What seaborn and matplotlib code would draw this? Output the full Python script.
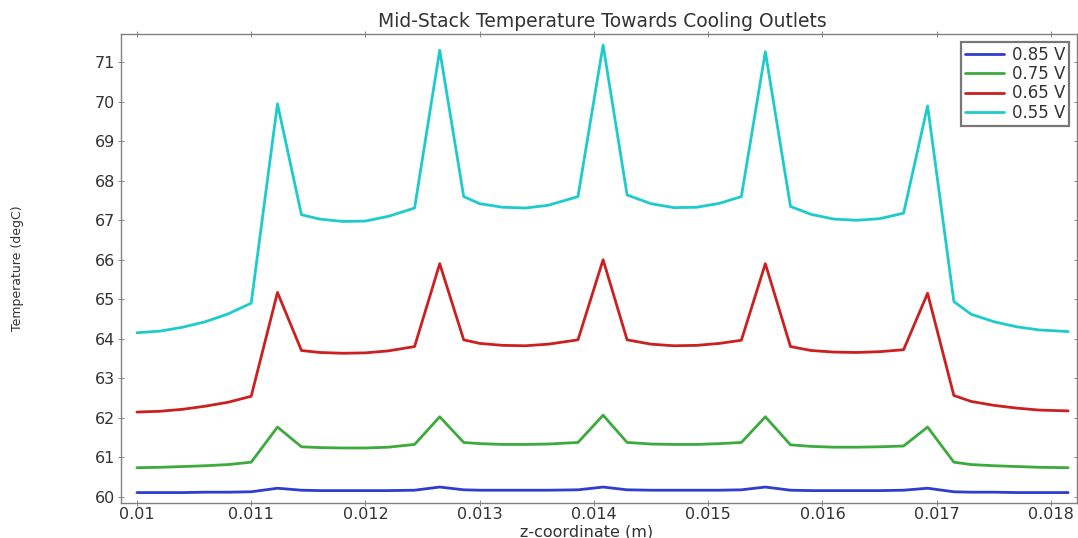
import numpy as np
import pandas as pd
import matplotlib
matplotlib.use("Agg")
import matplotlib.pyplot as plt
import seaborn as sns

# z positions along the stack (m)
z_coord = [
    0.0100, 0.0102, 0.0104, 0.0106, 0.0108, 0.0110,
    0.01123,
    0.01144, 0.0116, 0.0118, 0.0120, 0.0122, 0.01243,
    0.01265,
    0.01286, 0.0130, 0.0132, 0.0134, 0.0136, 0.01386,
    0.01408,
    0.01429, 0.0145, 0.0147, 0.0149, 0.0151, 0.01529,
    0.01550,
    0.01572, 0.0159, 0.0161, 0.0163, 0.0165, 0.01671,
    0.01692,
    0.01715, 0.0173, 0.0175, 0.0177, 0.0179, 0.01815,
]

temp_085 = [
    60.10, 60.10, 60.10, 60.11, 60.11, 60.12,
    60.21,
    60.16, 60.15, 60.15, 60.15, 60.15, 60.16,
    60.24,
    60.17, 60.16, 60.16, 60.16, 60.16, 60.17,
    60.24,
    60.17, 60.16, 60.16, 60.16, 60.16, 60.17,
    60.24,
    60.16, 60.15, 60.15, 60.15, 60.15, 60.16,
    60.21,
    60.12, 60.11, 60.11, 60.10, 60.10, 60.10,
]

temp_075 = [
    60.73, 60.74, 60.76, 60.78, 60.81, 60.87,
    61.76,
    61.26, 61.24, 61.23, 61.23, 61.25, 61.32,
    62.02,
    61.37, 61.34, 61.32, 61.32, 61.33, 61.37,
    62.06,
    61.37, 61.33, 61.32, 61.32, 61.34, 61.37,
    62.02,
    61.31, 61.27, 61.25, 61.25, 61.26, 61.28,
    61.76,
    60.87, 60.81, 60.78, 60.76, 60.74, 60.73,
]

temp_065 = [
    62.14, 62.16, 62.21, 62.29, 62.39, 62.54,
    65.17,
    63.70, 63.65, 63.63, 63.64, 63.69, 63.80,
    65.90,
    63.97, 63.88, 63.83, 63.82, 63.86, 63.97,
    66.00,
    63.97, 63.86, 63.82, 63.83, 63.88, 63.96,
    65.90,
    63.80, 63.70, 63.66, 63.65, 63.67, 63.72,
    65.15,
    62.56, 62.41, 62.31, 62.24, 62.19, 62.17,
]

temp_055 = [
    64.15, 64.19, 64.29, 64.43, 64.63, 64.90,
    69.95,
    67.14, 67.03, 66.97, 66.98, 67.10, 67.31,
    71.31,
    67.60, 67.42, 67.33, 67.31, 67.38, 67.60,
    71.44,
    67.64, 67.42, 67.32, 67.33, 67.43, 67.60,
    71.27,
    67.35, 67.15, 67.03, 67.00, 67.04, 67.18,
    69.90,
    64.94, 64.62, 64.43, 64.30, 64.22, 64.18,
]

voltages = ["0.85 V", "0.75 V", "0.65 V", "0.55 V"]
line_colors = ["#2e3ccf", "#3caa3c", "#cc1f1f", "#1ecbcb"]

x_ticks = [0.010, 0.011, 0.012, 0.013, 0.014, 0.015, 0.016, 0.017, 0.018]
x_tick_labels = ["0.01", "0.011", "0.012", "0.013", "0.014", "0.015",
                 "0.016", "0.017", "0.018"]
y_ticks = list(range(60, 72))

# long-form table for seaborn
frames = []
for lab, vals in zip(voltages, [temp_085, temp_075, temp_065, temp_055]):
    frames.append(pd.DataFrame({"z": z_coord, "T": vals, "Voltage": lab}))
df = pd.concat(frames, ignore_index=True)

sns.set_style("ticks")
plt.rcParams["font.family"] = ["DejaVu Sans"]

fig = plt.figure(figsize=(10.78, 5.38), dpi=100)
ax = fig.add_axes([0.1122, 0.065, 0.8868, 0.8718])

sns.lineplot(data=df, x="z", y="T", hue="Voltage", hue_order=voltages,
             palette=line_colors, linewidth=2.0, sort=False, ax=ax,
             legend=True)

ax.set_xlim(0.00986, 0.018227)
ax.set_ylim(59.835, 71.72)
ax.set_xticks(x_ticks)
ax.set_xticklabels(x_tick_labels)
ax.set_yticks(y_ticks)

ax.tick_params(direction="inout", length=4, width=0.6, color="#777777",
               labelsize=11.5, labelcolor="#333333", top=True, right=True)
ax.tick_params(axis="x", pad=1)
ax.tick_params(axis="y", pad=2)
for sp in ax.spines.values():
    sp.set_color("#808080")
    sp.set_linewidth(1.0)

ax.set_title("Mid-Stack Temperature Towards Cooling Outlets",
             fontsize=13.5, color="#333333", pad=5, x=0.504)
ax.set_xlabel("z-coordinate (m)", fontsize=11.5, color="#333333", va="center")
ax.xaxis.set_label_coords(0.487, -0.061)
ax.set_ylabel("Temperature (degC)", fontsize=9, color="#333333", va="center")
ax.yaxis.set_label_coords(-0.108, 0.5)

handles, labels = ax.get_legend_handles_labels()
leg = ax.legend(handles, labels, loc="upper right", fontsize=12,
                frameon=True, fancybox=False, handlelength=2.3,
                handletextpad=0.5, borderpad=0.25, labelspacing=0.08,
                borderaxespad=0.45)
leg.get_frame().set_edgecolor("#555555")
leg.get_frame().set_linewidth(1.6)
for t in leg.get_texts():
    t.set_color("#333333")

fig.savefig("out.png", dpi=100)
